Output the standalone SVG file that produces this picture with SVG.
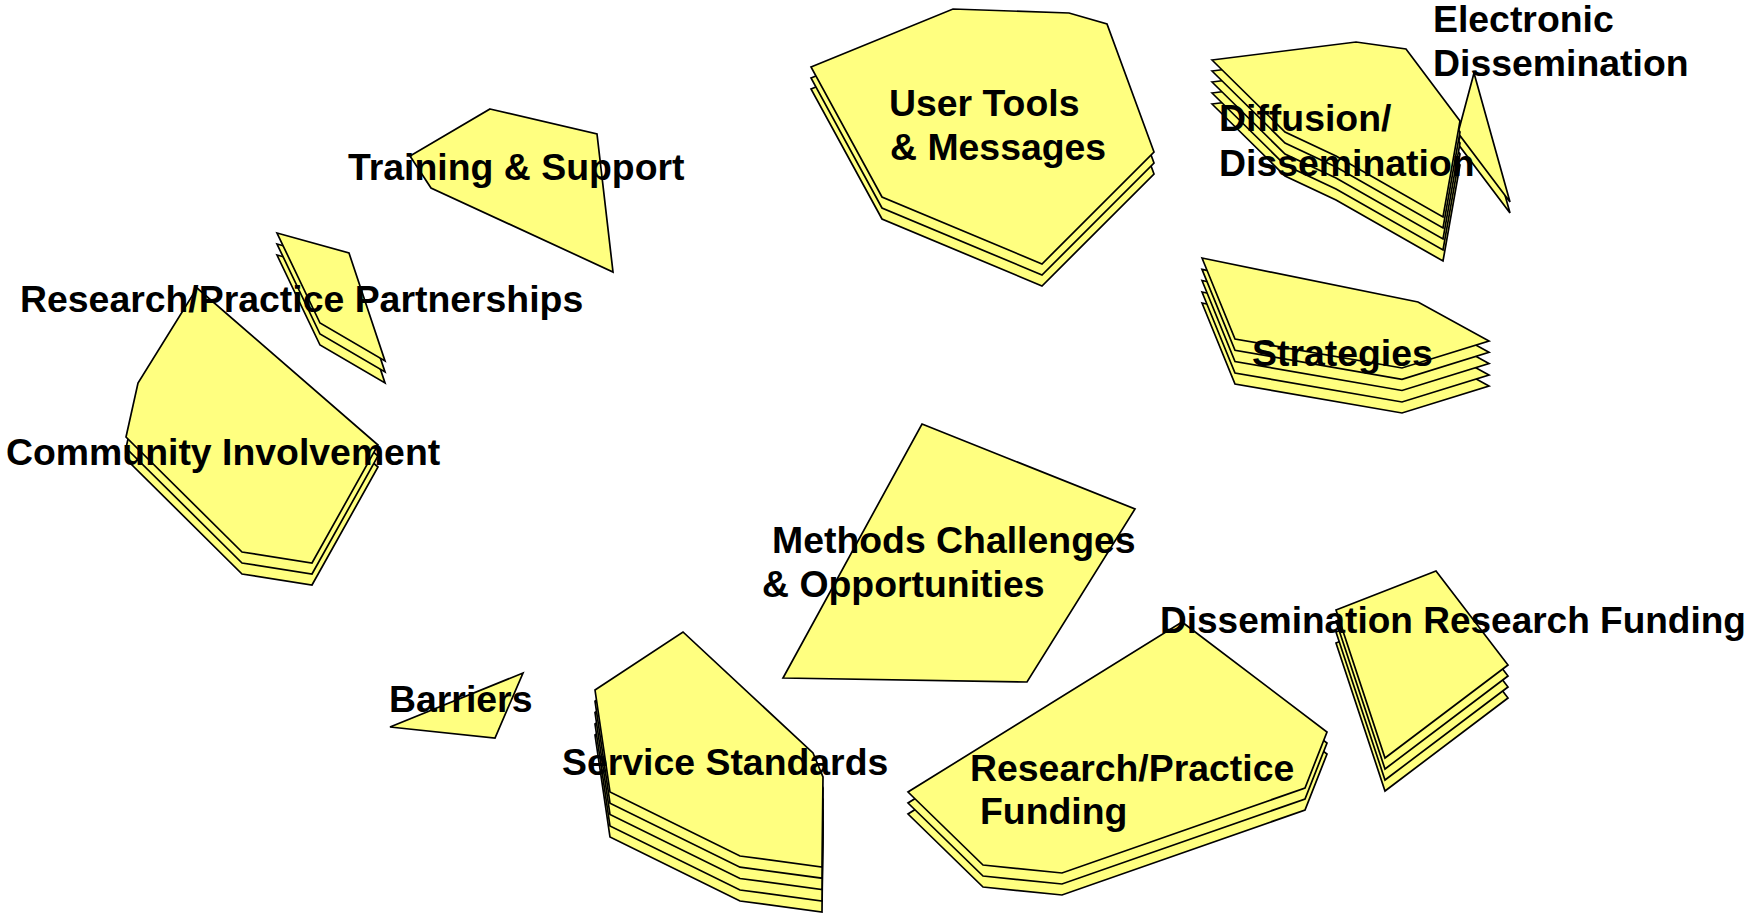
<svg xmlns="http://www.w3.org/2000/svg" width="1748" height="915" viewBox="0 0 1748 915">
<style>
.s{fill:#FFFF80;stroke:#000;stroke-width:1.7;stroke-linejoin:miter}
.t{font-family:"Liberation Sans",Arial,sans-serif;font-weight:bold;font-size:37.4px;fill:#000}
</style>
<defs>
<polygon id="p-ci" class="s" points="197,288 378,445 312,563 242,552 126,437 138,383"/>
<polygon id="p-rpp" class="s" points="277,233 349,253 385,361 320,323"/>
<polygon id="p-ut" class="s" points="811,67 953,9 1069,13 1107,24 1154,152 1042,264 882,197"/>
<polygon id="p-ed" class="s" points="1474,73 1458,133 1510,202"/>
<polygon id="p-dd" class="s" points="1212,60 1356,42 1406,49 1460,121 1443,217 1336,156 1285,132"/>
<polygon id="p-st" class="s" points="1202,258 1418,302 1489,341 1402,368 1235,339"/>
<polygon id="p-ss" class="s" points="595,690 683,632 813,753 823,777 822,867 740,856 610,792"/>
<polygon id="p-rpf" class="s" points="1182,622 1327,732 1305,788 1062,873 983,865 908,792"/>
<polygon id="p-drf" class="s" points="1336,610 1436,571 1508,665 1385,758"/>
</defs>
<rect width="1748" height="915" fill="#fff"/>
<g id="connectors"/>
<g id="community-involvement">
<use href="#p-ci" y="22"/><use href="#p-ci" y="11"/><use href="#p-ci"/>
<text class="t" x="6" y="465">Community Involvement</text>
</g>
<g id="research-practice-partnerships">
<use href="#p-rpp" y="22"/><use href="#p-rpp" y="11"/><use href="#p-rpp"/>
<text class="t" x="20" y="312">Research/Practice Partnerships</text>
</g>
<g id="training-support">
<polygon class="s" points="490,109 597,134 613,272 431,188 410,156"/>
<text class="t" x="348" y="180">Training &amp; Support</text>
</g>
<g id="user-tools">
<use href="#p-ut" y="22"/><use href="#p-ut" y="11"/><use href="#p-ut"/>
<text class="t" x="889" y="116">User Tools</text>
<text class="t" x="890" y="160">&amp; Messages</text>
</g>
<g id="electronic-dissemination">
<use href="#p-ed" y="11"/><use href="#p-ed"/>
<text class="t" x="1433" y="32">Electronic</text>
<text class="t" x="1433" y="76">Dissemination</text>
</g>
<g id="diffusion-dissemination">
<use href="#p-dd" y="44"/><use href="#p-dd" y="33"/><use href="#p-dd" y="22"/><use href="#p-dd" y="11"/><use href="#p-dd"/>
<text class="t" x="1219" y="131">Diffusion/</text>
<text class="t" x="1219" y="176">Dissemination</text>
</g>
<g id="strategies">
<use href="#p-st" y="45"/><use href="#p-st" y="34"/><use href="#p-st" y="22.5"/><use href="#p-st" y="11.3"/><use href="#p-st"/>
<text class="t" x="1252" y="366">Strategies</text>
</g>
<g id="methods">
<polygon class="s" points="922,424 1135,509 1027,682 783,678"/>
<text class="t" x="772" y="553">Methods Challenges</text>
<text class="t" x="762" y="597">&amp; Opportunities</text>
</g>
<g id="barriers">
<polygon class="s" points="390,727 523,673 495,738"/>
<text class="t" x="389" y="712">Barriers</text>
</g>
<g id="service-standards">
<use href="#p-ss" y="45"/><use href="#p-ss" y="34"/><use href="#p-ss" y="22.5"/><use href="#p-ss" y="11.2"/><use href="#p-ss"/>
<text class="t" x="562" y="775">Service Standards</text>
</g>
<g id="research-practice-funding">
<use href="#p-rpf" y="22"/><use href="#p-rpf" y="11"/><use href="#p-rpf"/>
<text class="t" x="970" y="781">Research/Practice</text>
<text class="t" x="980" y="824">Funding</text>
</g>
<g id="dissemination-research-funding">
<use href="#p-drf" y="33"/><use href="#p-drf" y="22"/><use href="#p-drf" y="11"/><use href="#p-drf"/>
<text class="t" x="1160" y="633" style="font-size:37px">Dissemination Research Funding</text>
</g>
</svg>
